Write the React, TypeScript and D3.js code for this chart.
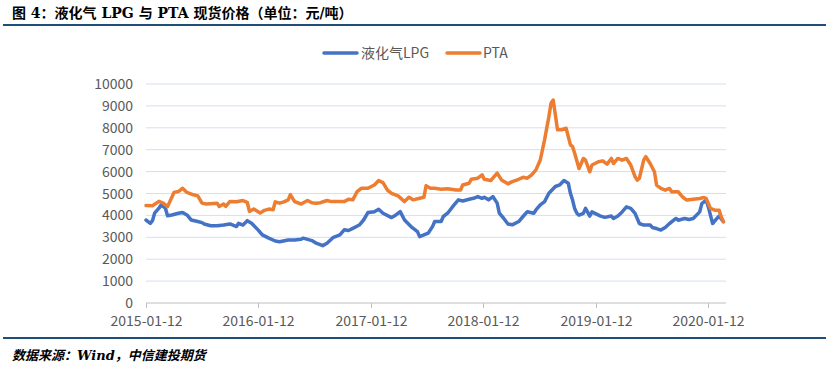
import React from "react";
import * as d3 from "d3";

// weekly spot prices, week index counted from 2015-01-12
const ptaWeeks = [0, 3, 6, 8, 10, 13, 15, 17, 19, 22, 24, 26, 28, 33, 34, 36, 37, 39, 42, 45, 47, 48, 50, 53, 55, 57, 59, 60, 62, 64, 66, 67, 69, 72, 75, 77, 79, 81, 84, 86, 89, 92, 94, 96, 98, 100, 103, 106, 108, 110, 112, 114, 117, 120, 122, 124, 127, 129, 130, 132, 134, 137, 140, 144, 146, 147, 150, 151, 154, 156, 157, 160, 163, 165, 168, 170, 173, 175, 177, 179, 181, 183, 185, 187, 188, 189, 190, 191, 193, 195, 197, 198, 199, 201, 203, 204, 206, 207, 210, 212, 214, 216, 217, 219, 221, 223, 225, 227, 228, 229, 231, 232, 234, 236, 237, 239, 241, 243, 244, 247, 249, 251, 253, 257, 259, 260, 262, 264, 266, 267, 268];
const ptaValues = [4450, 4440, 4640, 4560, 4400, 5050, 5090, 5240, 5050, 4940, 4890, 4560, 4520, 4560, 4410, 4520, 4410, 4640, 4620, 4680, 4600, 4180, 4290, 4110, 4230, 4290, 4260, 4620, 4560, 4620, 4710, 4950, 4630, 4520, 4680, 4580, 4550, 4580, 4680, 4630, 4630, 4630, 4740, 4710, 5090, 5240, 5240, 5390, 5590, 5500, 5160, 5010, 4890, 4630, 4830, 4710, 4780, 4830, 5350, 5240, 5240, 5190, 5220, 5160, 5160, 5390, 5470, 5650, 5700, 5850, 5650, 5590, 5930, 5620, 5440, 5540, 5650, 5740, 5700, 5850, 6080, 6530, 7450, 8510, 9120, 9270, 8600, 7910, 7910, 7980, 7220, 7140, 6830, 6140, 6600, 6520, 5990, 6300, 6450, 6490, 6340, 6600, 6370, 6600, 6520, 6600, 6300, 5770, 5610, 5690, 6520, 6680, 6370, 5990, 5380, 5230, 5150, 5230, 5080, 5080, 4850, 4700, 4730, 4770, 4820, 4770, 4320, 4240, 4240, 3940, 3710];

const lpgWeeks = [0, 2, 3, 4, 6, 7, 9, 10, 12, 15, 17, 19, 21, 24, 26, 27, 30, 33, 36, 39, 42, 43, 45, 47, 49, 52, 54, 57, 60, 62, 66, 69, 72, 73, 77, 79, 82, 84, 87, 90, 92, 94, 96, 99, 101, 103, 106, 108, 110, 114, 116, 118, 120, 123, 126, 127, 129, 131, 133, 134, 137, 138, 140, 143, 145, 147, 150, 152, 154, 156, 157, 159, 161, 163, 164, 166, 168, 170, 173, 175, 177, 180, 181, 183, 185, 187, 190, 192, 194, 196, 197, 198, 199, 200, 201, 203, 204, 206, 207, 211, 213, 216, 217, 219, 221, 223, 225, 227, 229, 231, 234, 235, 237, 239, 241, 243, 246, 247, 250, 252, 254, 257, 258, 260, 261, 263, 265, 266, 268];
const lpgValues = [3790, 3640, 3760, 4100, 4330, 4480, 4330, 3980, 4020, 4100, 4130, 4020, 3790, 3720, 3670, 3610, 3530, 3530, 3560, 3610, 3490, 3640, 3560, 3760, 3640, 3340, 3110, 2960, 2830, 2800, 2880, 2880, 2910, 2960, 2850, 2730, 2620, 2730, 3000, 3110, 3340, 3310, 3410, 3560, 3790, 4130, 4170, 4280, 4100, 3900, 4020, 4170, 3790, 3490, 3260, 3030, 3110, 3190, 3490, 3720, 3720, 3950, 4100, 4480, 4710, 4660, 4740, 4780, 4860, 4780, 4830, 4710, 4860, 4560, 4100, 3870, 3610, 3570, 3720, 3950, 4170, 4100, 4250, 4480, 4630, 5010, 5320, 5390, 5590, 5470, 5010, 4700, 4300, 4100, 4010, 4090, 4320, 3970, 4160, 3970, 3910, 3970, 3860, 3970, 4160, 4390, 4320, 4090, 3630, 3560, 3560, 3450, 3400, 3330, 3450, 3630, 3860, 3780, 3860, 3810, 3860, 4160, 4540, 4700, 4390, 3630, 3860, 3970, 3710];

const xTickLabels = ["2015-01-12", "2016-01-12", "2017-01-12", "2018-01-12", "2019-01-12", "2020-01-12"];
const yTicks = [0, 1000, 2000, 3000, 4000, 5000, 6000, 7000, 8000, 9000, 10000];

const W = 828;
const H = 369;
const BLUE = "#4472C4";
const ORANGE = "#ED7D31";
const DARK = "#1F4E79";
const LABEL = "#595959";
const FONT = "'Noto Sans CJK SC', 'Noto Sans', sans-serif";
const TITLE_FONT = "'DejaVu Serif', 'Noto Sans CJK SC', serif";

const start = new Date(2015, 0, 12);
const weekToDate = (w: number) => d3.timeDay.offset(start, w * 7);

export default function App() {
  const x = d3
    .scaleTime()
    .domain([new Date(2015, 0, 12), new Date(2020, 0, 12)])
    .range([146, 708]);
  const y = d3.scaleLinear().domain([0, 10000]).range([303, 84]);

  const line = d3
    .line<[number, number]>()
    .x((d) => x(weekToDate(d[0])))
    .y((d) => y(d[1]));

  const pta = ptaWeeks.map((w, i) => [w, ptaValues[i]] as [number, number]);
  const lpg = lpgWeeks.map((w, i) => [w, lpgValues[i]] as [number, number]);
  const axisEnd = 726;

  return (
    <div style={{ position: "fixed", left: 0, top: 0, width: W, height: H, background: "#fff" }}>
      <svg width={W} height={H} style={{ display: "block" }}>
        <defs>
          <clipPath id="chart-clip">
            <rect x={0} y={0} width={744} height={H} />
          </clipPath>
        </defs>
        <text x={12} y={18} fontFamily={TITLE_FONT} fontWeight="bold" fontSize={14} fill="#000">
          图 4：液化气 LPG 与 PTA 现货价格（单位：元/吨）
        </text>
        <rect x={3} y={24} width={823} height={2} fill={DARK} />

        {/* legend */}
        <line x1={324} x2={357} y1={53} y2={53} stroke={BLUE} strokeWidth={3.5} strokeLinecap="round" />
        <text x={361} y={58} fontFamily={FONT} fontSize={14} fill={LABEL}>液化气LPG</text>
        <line x1={447} x2={480} y1={53} y2={53} stroke={ORANGE} strokeWidth={3.5} strokeLinecap="round" />
        <text x={483} y={58} fontFamily={FONT} fontSize={14} fill={LABEL}>PTA</text>

        {/* grid + y labels */}
        {yTicks.map((t) => (
          <g key={t}>
            {t > 0 && (
              <line x1={146} x2={axisEnd} y1={y(t)} y2={y(t)} stroke="#D6DEEF" strokeWidth={1} />
            )}
            <text x={133} y={y(t) + 5} textAnchor="end" fontFamily={FONT} fontSize={14} fill={LABEL}>
              {t}
            </text>
          </g>
        ))}

        {/* x axis */}
        <line x1={146} x2={axisEnd} y1={303} y2={303} stroke="#BFBFBF" strokeWidth={1} />
        <g clipPath="url(#chart-clip)">
          {xTickLabels.map((lab) => {
            const px = Math.round(x(d3.timeParse("%Y-%m-%d")(lab)!)) + 0.5;
            return (
              <g key={lab}>
                <line x1={px} x2={px} y1={303} y2={308} stroke="#BFBFBF" />
                <text x={px} y={326} textAnchor="middle" fontFamily={FONT} fontSize={14} fill={LABEL}>
                  {lab}
                </text>
              </g>
            );
          })}
        </g>

        <path d={line(lpg) ?? ""} fill="none" stroke={BLUE} strokeWidth={3.5} strokeLinejoin="round" strokeLinecap="round" />
        <path d={line(pta) ?? ""} fill="none" stroke={ORANGE} strokeWidth={3.5} strokeLinejoin="round" strokeLinecap="round" />

        <rect x={3} y={337} width={823} height={2} fill={DARK} />
        <text x={12} y={360} fontFamily={TITLE_FONT} fontWeight="bold" fontStyle="italic" fontSize={13} fill="#000">
          数据来源：Wind，中信建投期货
        </text>
      </svg>
    </div>
  );
}
